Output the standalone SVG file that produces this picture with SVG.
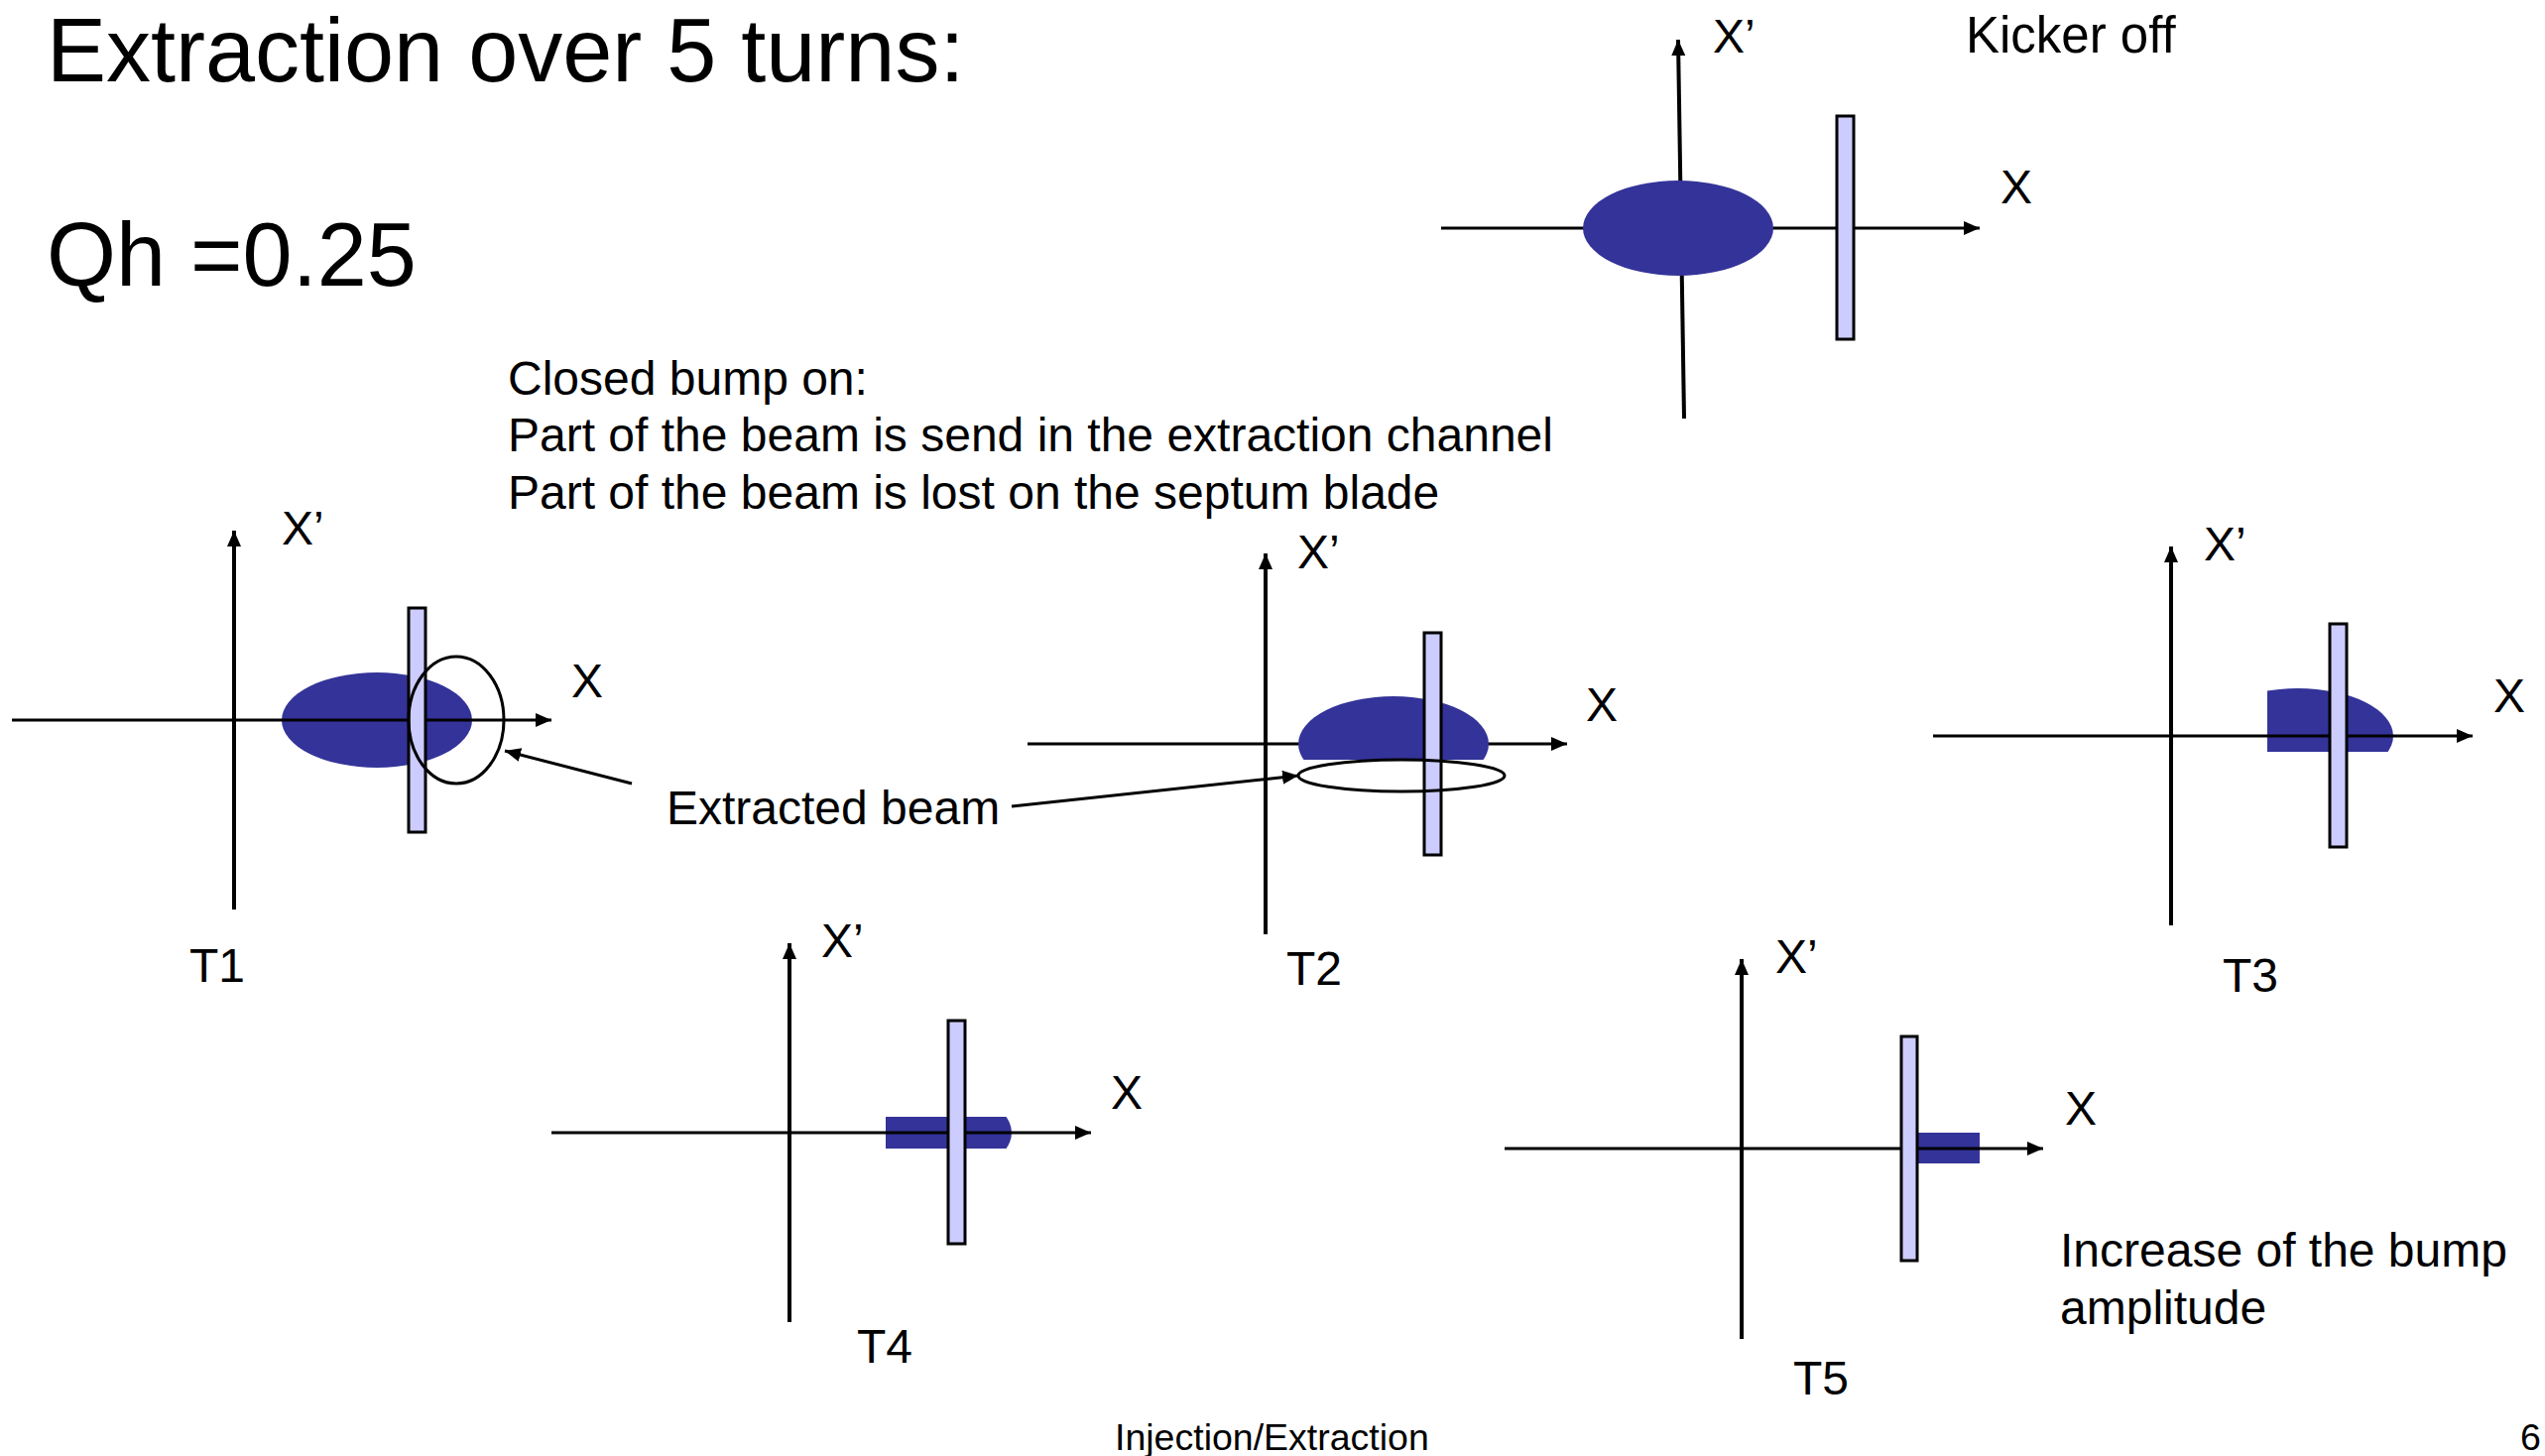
<svg xmlns="http://www.w3.org/2000/svg" width="2566" height="1468" viewBox="0 0 2566 1468">
<style>
text{font-family:"Liberation Sans",Arial,sans-serif;fill:#000}
.ax{stroke:#000;stroke-width:3;fill:none}
.axv{stroke:#000;stroke-width:4;fill:none}
.lbl{font-size:48px}
.beam{fill:#333399}
.sep{fill:#CCCCFF;stroke:#000;stroke-width:3}
.out{fill:none;stroke:#000;stroke-width:3}
.con{stroke:#000;stroke-width:3;fill:none}
</style>
<defs>
<marker id="ah" markerUnits="userSpaceOnUse" markerWidth="18" markerHeight="16" refX="16" refY="7" orient="auto">
<path d="M0,0 L16,7 L0,14 z" fill="#000"/>
</marker>
<clipPath id="c2"><rect x="1290" y="690" width="240" height="76"/></clipPath>
<clipPath id="c3"><rect x="2286" y="680" width="160" height="78"/></clipPath>
<clipPath id="c4"><rect x="893" y="1126" width="160" height="32"/></clipPath>
</defs>

<g id="title">
<text x="47" y="82" font-size="90">Extraction over 5 turns:</text>
<text x="47" y="288" font-size="90">Qh =0.25</text>
</g>

<g id="note-bump">
<text x="512" y="398" font-size="48">Closed bump on:</text>
<text x="512" y="455" font-size="48">Part of the beam is send in the extraction channel</text>
<text x="512" y="513" font-size="48">Part of the beam is lost on the septum blade</text>
</g>

<g id="plot-kicker-off">
<line class="axv" x1="1698" y1="422" x2="1692" y2="40" marker-end="url(#ah)"/>
<line class="ax" x1="1453" y1="230" x2="1996" y2="230" marker-end="url(#ah)"/>
<ellipse class="beam" cx="1692" cy="230" rx="96" ry="48"/>
<rect class="sep" x="1852" y="117" width="17" height="225"/>
<text class="lbl" x="1727" y="53">X’</text>
<text class="lbl" x="2017" y="205">X</text>
<text x="1982" y="53" font-size="51">Kicker off</text>
</g>

<g id="plot-t1">
<ellipse class="beam" cx="380" cy="726" rx="96" ry="48"/>
<line class="axv" x1="236" y1="917" x2="236" y2="535" marker-end="url(#ah)"/>
<line class="ax" x1="12" y1="726" x2="556" y2="726" marker-end="url(#ah)"/>
<rect class="sep" x="412" y="613" width="17" height="226"/>
<ellipse class="out" cx="460" cy="726" rx="48" ry="64"/>
<text class="lbl" x="284" y="549">X’</text>
<text class="lbl" x="576" y="703">X</text>
<text class="lbl" x="191" y="990">T1</text>
</g>

<g id="plot-t2">
<line class="axv" x1="1276" y1="942" x2="1276" y2="558" marker-end="url(#ah)"/>
<line class="ax" x1="1036" y1="750" x2="1580" y2="750" marker-end="url(#ah)"/>
<ellipse class="beam" cx="1405" cy="750" rx="96" ry="48" clip-path="url(#c2)"/>
<rect class="sep" x="1436" y="638" width="17" height="224"/>
<ellipse class="out" cx="1413" cy="782" rx="104" ry="16"/>
<text class="lbl" x="1308" y="573">X’</text>
<text class="lbl" x="1599" y="727">X</text>
<text class="lbl" x="1297" y="993">T2</text>
</g>

<g id="plot-t3">
<ellipse class="beam" cx="2317" cy="742" rx="96" ry="48" clip-path="url(#c3)"/>
<line class="axv" x1="2189" y1="933" x2="2189" y2="551" marker-end="url(#ah)"/>
<line class="ax" x1="1949" y1="742" x2="2493" y2="742" marker-end="url(#ah)"/>
<rect class="sep" x="2349" y="629" width="17" height="225"/>
<text class="lbl" x="2222" y="565">X’</text>
<text class="lbl" x="2514" y="718">X</text>
<text class="lbl" x="2241" y="1000">T3</text>
</g>

<g id="plot-t4">
<ellipse class="beam" cx="924" cy="1142" rx="96" ry="48" clip-path="url(#c4)"/>
<line class="axv" x1="796" y1="1333" x2="796" y2="951" marker-end="url(#ah)"/>
<line class="ax" x1="556" y1="1142" x2="1100" y2="1142" marker-end="url(#ah)"/>
<rect class="sep" x="956" y="1029" width="17" height="225"/>
<text class="lbl" x="828" y="965">X’</text>
<text class="lbl" x="1120" y="1118">X</text>
<text class="lbl" x="864" y="1374">T4</text>
</g>

<g id="plot-t5">
<rect class="beam" x="1933" y="1142" width="63" height="31"/>
<line class="axv" x1="1756" y1="1350" x2="1756" y2="967" marker-end="url(#ah)"/>
<line class="ax" x1="1517" y1="1158" x2="2060" y2="1158" marker-end="url(#ah)"/>
<rect class="sep" x="1917" y="1045" width="16" height="226"/>
<text class="lbl" x="1790" y="981">X’</text>
<text class="lbl" x="2082" y="1134">X</text>
<text class="lbl" x="1808" y="1406">T5</text>
</g>

<g id="label-extracted">
<text x="672" y="831" font-size="48">Extracted beam</text>
</g>

<g id="note-increase">
<text x="2077" y="1277" font-size="48">Increase of the bump</text>
<text x="2077" y="1335" font-size="48">amplitude</text>
</g>

<g id="connectors">
<line class="con" x1="637" y1="790" x2="509" y2="757" marker-end="url(#ah)"/>
<line class="con" x1="1020" y1="813" x2="1309" y2="782" marker-end="url(#ah)"/>
</g>

<g id="footer">
<text x="1124" y="1462" font-size="37.5">Injection/Extraction</text>
<text x="2541" y="1462" font-size="37.5">6</text>
</g>
</svg>
